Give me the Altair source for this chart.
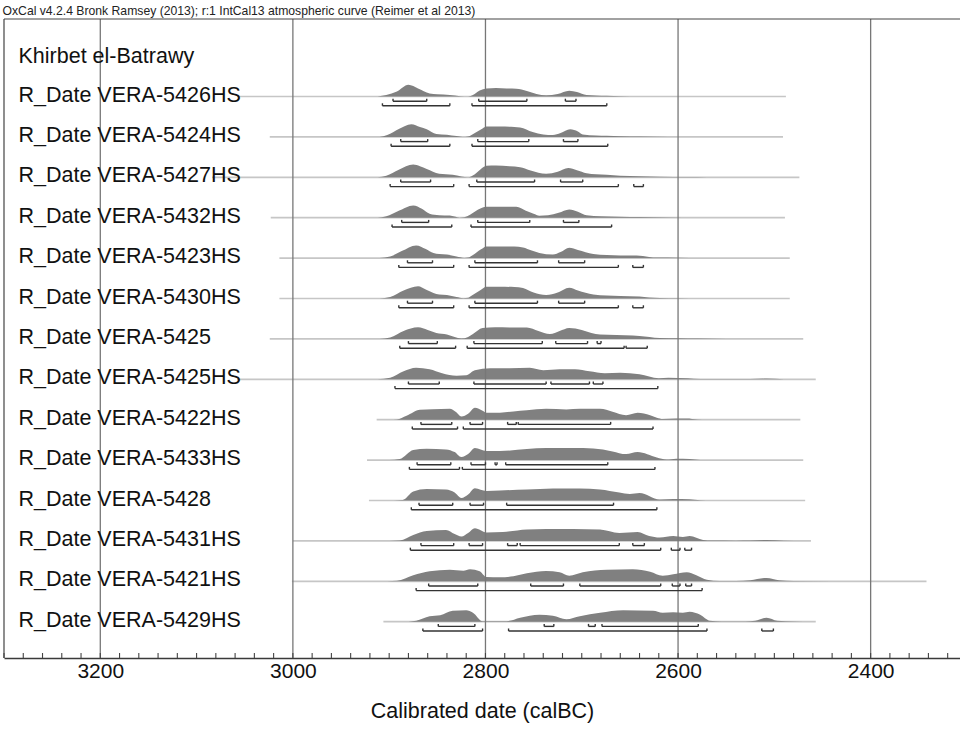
import altair as alt
import pandas as pd

HEADER = "OxCal v4.2.4 Bronk Ramsey (2013); r:1 IntCal13 atmospheric curve (Reimer et al 2013)"
GROUP_TITLE = "Khirbet el-Batrawy"
AXIS_TITLE = "Calibrated date (calBC)"

LABELS = [
    "R_Date VERA-5426HS", "R_Date VERA-5424HS", "R_Date VERA-5427HS",
    "R_Date VERA-5432HS", "R_Date VERA-5423HS", "R_Date VERA-5430HS",
    "R_Date VERA-5425", "R_Date VERA-5425HS", "R_Date VERA-5422HS",
    "R_Date VERA-5433HS", "R_Date VERA-5428", "R_Date VERA-5431HS",
    "R_Date VERA-5421HS", "R_Date VERA-5429HS",
]

# extent of the thin base line of each distribution (calBC)
LINE_START = [3058, 3024, 3084, 3023, 3014, 3014, 3024, 3058, 2913, 2923, 2921, 3000, 3001, 2906]
LINE_END = [2488, 2491, 2474, 2489, 2484, 2484, 2470, 2457, 2473, 2470, 2468, 2462, 2342, 2457]

GRID_YEARS = [3200, 3000, 2800, 2600, 2400]
MINOR_TICKS = list(range(3300, 2300, -20))

# probability densities: (year calBC, relative height)
D_5426HS = [(2912, 0), (2903, 1.5), (2892, 5), (2880, 11.7), (2870, 8), (2858, 3), (2850, 2.2), (2837, 1.5),
            (2826, 0.3), (2818, 0), (2813, 1.5), (2806, 6), (2799, 8), (2789, 8.5), (2778, 8), (2768, 7.8),
            (2757, 5.5), (2747, 2.5), (2737, 1.2), (2725, 2.5), (2713, 5.7), (2705, 4.5), (2695, 1.5),
            (2685, 1), (2674, 0.7), (2660, 0.3), (2640, 0)]
D_5424HS = [(2910, 0), (2902, 2), (2890, 8), (2877, 12.7), (2868, 10), (2861, 7.7), (2851, 3), (2840, 2.2),
            (2830, 0.8), (2824, 0), (2818, 0.5), (2811, 4), (2803, 8.5), (2799, 10.3), (2785, 10.3),
            (2770, 10), (2764, 9.5), (2751, 5), (2740, 2.5), (2730, 2), (2722, 4), (2712, 7.7), (2704, 5.5),
            (2699, 2.5), (2685, 1.5), (2674, 1.2), (2660, 0.6), (2640, 0.3), (2610, 0)]
D_5427HS = [(2912, 0), (2903, 1.5), (2890, 7.5), (2875, 12.7), (2868, 11), (2861, 8.3), (2848, 3.5),
            (2834, 2.5), (2825, 0.8), (2818, 0), (2811, 3), (2805, 8), (2799, 11.5), (2789, 11.7),
            (2775, 11), (2764, 10), (2754, 7), (2745, 4.5), (2737, 3.5), (2725, 5.5), (2714, 9.3),
            (2705, 7), (2695, 4), (2685, 3), (2674, 2.5), (2660, 1.5), (2640, 1), (2619, 0.5), (2590, 0.2),
            (2570, 0)]
D_5432HS = [(2912, 0), (2903, 1.5), (2890, 7), (2875, 12.3), (2866, 9), (2858, 4), (2848, 2.5), (2837, 2.2),
            (2832, 1.2), (2827, 0), (2822, 0.5), (2816, 3), (2808, 8), (2799, 11), (2785, 11), (2768, 11),
            (2758, 7), (2750, 4), (2744, 2), (2735, 2.5), (2724, 5), (2713, 8.3), (2704, 6), (2695, 2.5),
            (2680, 1.5), (2660, 1), (2640, 0.7), (2610, 0.3), (2580, 0)]
D_5423HS = [(2910, 0), (2899, 1.5), (2887, 7), (2872, 12.7), (2862, 9), (2854, 5), (2848, 4), (2840, 3.5),
            (2830, 1.5), (2822, 0.2), (2818, 0.5), (2813, 3), (2805, 8.5), (2799, 11.7), (2785, 11.7),
            (2770, 11.5), (2761, 10.5), (2752, 7.5), (2744, 5), (2730, 3.5), (2722, 6), (2713, 10.3),
            (2704, 8), (2688, 4), (2674, 3), (2660, 2.5), (2643, 2.5), (2630, 1.2), (2622, 0.5), (2600, 0.3),
            (2577, 0)]
D_5430HS = [(2910, 0), (2899, 1.5), (2885, 8), (2870, 12.3), (2862, 9), (2854, 5.5), (2848, 4), (2840, 3.5),
            (2830, 1.5), (2823, 0.3), (2818, 0.8), (2815, 2.5), (2805, 8.5), (2799, 11.7), (2785, 11.7),
            (2770, 11.5), (2761, 10.5), (2750, 6), (2737, 3.5), (2725, 6), (2713, 10.7), (2704, 8),
            (2688, 4), (2674, 3), (2660, 2.5), (2640, 2), (2630, 1), (2619, 0.5), (2600, 0.3), (2577, 0)]
D_5425 = [(2910, 0), (2899, 1.5), (2885, 8), (2870, 11.7), (2860, 9), (2851, 6), (2840, 4.5), (2832, 2),
          (2825, 0.5), (2818, 2), (2813, 5), (2803, 11), (2790, 11.7), (2775, 11.5), (2757, 11.5), (2745, 8),
          (2733, 5), (2723, 8), (2713, 11), (2700, 9), (2690, 6), (2681, 4.5), (2664, 4), (2647, 3.5),
          (2640, 3), (2619, 1), (2600, 0.7), (2580, 0.3), (2550, 0)]
D_5425HS = [(2912, 0), (2899, 1.5), (2885, 8), (2872, 11.5), (2858, 10), (2845, 6), (2830, 3.5), (2820, 4),
            (2811, 9), (2795, 11), (2775, 11), (2754, 11.5), (2740, 9), (2723, 10), (2707, 10), (2692, 8),
            (2676, 6), (2660, 6.5), (2640, 5), (2620, 1), (2610, 1.5), (2590, 1), (2577, 0.3), (2560, 0.2),
            (2525, 0.2), (2508, 0.7), (2490, 0)]
D_5422HS = [(2900, 0), (2892, 0.3), (2882, 4), (2868, 10), (2855, 10.5), (2837, 11), (2831, 8), (2825, 3.3),
            (2818, 6), (2811, 12), (2803, 9), (2799, 7), (2785, 7), (2771, 8.3), (2757, 9.5), (2737, 11),
            (2716, 10.3), (2702, 11), (2681, 11), (2668, 8), (2654, 4.5), (2642, 7), (2629, 4.5), (2622, 2),
            (2616, 0.7), (2602, 1.2), (2591, 1.2), (2580, 0.3), (2570, 0)]
D_5433HS = [(2900, 0), (2889, 1), (2875, 10), (2861, 11.3), (2841, 10.7), (2832, 8), (2825, 3), (2818, 6),
            (2811, 12), (2799, 9), (2785, 9), (2757, 11), (2737, 12), (2709, 12), (2688, 11.5), (2668, 8.7),
            (2654, 6), (2642, 8), (2622, 2.5), (2612, 0.5), (2602, 1.3), (2588, 1), (2577, 0.2), (2565, 0)]
D_5428 = [(2895, 0), (2886, 0.5), (2875, 9), (2861, 11.5), (2841, 11), (2832, 8), (2825, 2.5), (2818, 6),
          (2811, 12.3), (2799, 9.5), (2785, 10), (2757, 11), (2730, 12), (2702, 12), (2681, 11), (2661, 8),
          (2650, 6.5), (2640, 7.5), (2619, 1), (2605, 1.5), (2588, 1.3), (2577, 0.3), (2565, 0)]
D_5431HS = [(2900, 0), (2889, 0.5), (2875, 6), (2861, 10), (2841, 11), (2832, 7), (2825, 4.5), (2818, 8),
            (2811, 12.7), (2799, 8.5), (2782, 9), (2757, 11.5), (2737, 12), (2709, 12), (2681, 11.5),
            (2661, 8), (2642, 9), (2630, 5), (2619, 3.5), (2605, 5), (2595, 4), (2588, 5), (2574, 1),
            (2565, 0.3), (2540, 0.2), (2525, 0.3), (2508, 1), (2490, 0.2), (2470, 0)]
D_5421HS = [(2902, 0), (2892, 0.5), (2875, 6), (2858, 10), (2837, 11.5), (2823, 10.5), (2816, 12), (2806, 10),
            (2799, 4.3), (2785, 4), (2771, 5), (2757, 8), (2737, 10.3), (2723, 9), (2713, 5.5), (2699, 9),
            (2674, 11.5), (2647, 12), (2629, 9.5), (2616, 5.5), (2605, 7), (2591, 9), (2581, 6), (2570, 1.5),
            (2557, 0.3), (2540, 0.3), (2525, 1), (2508, 3.3), (2495, 1), (2480, 0.3), (2400, 0.1), (2350, 0)]
D_5429HS = [(2880, 0), (2872, 1), (2858, 5.5), (2847, 6.5), (2834, 11), (2820, 11.5), (2813, 9), (2803, 0.5),
            (2778, 0.5), (2764, 4), (2744, 7), (2730, 6), (2716, 2.5), (2702, 5.5), (2681, 9), (2657, 11.5),
            (2626, 11), (2616, 9), (2605, 9.5), (2595, 9), (2588, 10), (2577, 7), (2567, 1), (2555, 0.3),
            (2530, 0.3), (2520, 1), (2508, 4), (2497, 1), (2480, 0.2), (2460, 0)]

DENSITIES = [D_5426HS, D_5424HS, D_5427HS, D_5432HS, D_5423HS, D_5430HS, D_5425,
             D_5425HS, D_5422HS, D_5433HS, D_5428, D_5431HS, D_5421HS, D_5429HS]

# highest posterior density ranges (from, to) calBC
R68 = [
    [(2896, 2861), (2807, 2757), (2717, 2706)],
    [(2888, 2860), (2808, 2755), (2719, 2704)],
    [(2888, 2857), (2809, 2749), (2722, 2699)],
    [(2887, 2859), (2808, 2754), (2719, 2703)],
    [(2881, 2855), (2811, 2746), (2724, 2697)],
    [(2881, 2855), (2811, 2746), (2724, 2697)],
    [(2880, 2850), (2812, 2741), (2727, 2694), (2684, 2680)],
    [(2880, 2848), (2812, 2737), (2732, 2692), (2688, 2678)],
    [(2867, 2835), (2816, 2803), (2777, 2768), (2766, 2670)],
    [(2871, 2836), (2815, 2800), (2790, 2788), (2779, 2673)],
    [(2869, 2834), (2816, 2802), (2778, 2667)],
    [(2867, 2833), (2817, 2803), (2777, 2767), (2764, 2661), (2647, 2635)],
    [(2859, 2808), (2753, 2719), (2702, 2618), (2606, 2598), (2592, 2586)],
    [(2849, 2811), (2739, 2729), (2693, 2686), (2679, 2579)],
]
R95 = [
    [(2907, 2837), (2814, 2674)],
    [(2898, 2837), (2814, 2673)],
    [(2899, 2833), (2817, 2662), (2646, 2636)],
    [(2897, 2835), (2815, 2669)],
    [(2890, 2833), (2817, 2662), (2647, 2636)],
    [(2890, 2833), (2817, 2662), (2647, 2636)],
    [(2889, 2831), (2819, 2656), (2654, 2632)],
    [(2894, 2621)],
    [(2876, 2829), (2823, 2626)],
    [(2879, 2827), (2824, 2624)],
    [(2877, 2622)],
    [(2878, 2618), (2607, 2598), (2593, 2586)],
    [(2872, 2575)],
    [(2865, 2803), (2776, 2570), (2513, 2501)],
]

# ---------------------------------------------------------------- tables
W, H = 956, 639
ROW_PX = 40.4                       # pixels between rows
Y_TOP, Y_BOT = -1.918, 13.899       # row units at top / bottom of the plot

dens_rows = []
for i, d in enumerate(DENSITIES):
    for yr, h in d:
        dens_rows.append({"row": i, "year": yr, "d": h})
dens_df = pd.DataFrame(dens_rows)

line_df = pd.DataFrame({"row": list(range(len(LABELS))), "s": LINE_START, "e": LINE_END})
label_df = pd.DataFrame({"row": list(range(len(LABELS))), "label": LABELS})

rng = []
for i in range(len(LABELS)):
    for s, e in R68[i]:
        rng.append({"row": i, "lvl": 68, "s": s, "e": e})
    for s, e in R95[i]:
        rng.append({"row": i, "lvl": 95, "s": s, "e": e})
rng_df = pd.DataFrame(rng)

xs = alt.Scale(domain=[2307.2, 3300], reverse=True, zero=False, nice=False)
ys = alt.Scale(domain=[Y_TOP, Y_BOT], reverse=True, zero=False, nice=False)
FONT = "Liberation Sans"
AX = alt.Axis(values=GRID_YEARS, ticks=False, grid=False, domain=True, domainColor="#3a3a3a",
              domainWidth=1.4, labelFontSize=21, labelFont=FONT, labelColor="#111111",
              labelPadding=2, format="d", labelFlush=False, title=AXIS_TITLE,
              titleFont=FONT, titleFontSize=21.5, titleFontWeight="normal", titleColor="#111111",
              titlePadding=19)


def X(f):
    return alt.X(f, type="quantitative", scale=xs, axis=AX)


def Y(f):
    return alt.Y(f, type="quantitative", scale=ys, axis=None)


baselines = alt.Chart(line_df).mark_rule(color="#c6c6c6", strokeWidth=1.7).encode(
    x=X("s"), x2="e", y=Y("row"))

areas = alt.Chart(dens_df).transform_calculate(
    top=f"datum.row - datum.d / {ROW_PX}"
).mark_area(color="#808080", interpolate="monotone", opacity=1).encode(
    x=X("year"), y=Y("top"), y2="row", detail="row:N")

grid = alt.Chart(pd.DataFrame({"g": GRID_YEARS})).mark_rule(color="#777777", strokeWidth=1.3).encode(
    x=X("g"), y=alt.value(0), y2=alt.value(H))

rng_base = alt.Chart(rng_df).transform_calculate(
    yb=f"datum.row + (datum.lvl == 68 ? 4.7 : 9.3) / {ROW_PX}",
    yt=f"datum.row + (datum.lvl == 68 ? 2.2 : 6.8) / {ROW_PX}",
)
bracket_h = rng_base.mark_rule(color="#333333", strokeWidth=1.4).encode(
    x=X("s"), x2="e", y=Y("yb"))
bracket_v = rng_base.transform_fold(["s", "e"], as_=["k", "pos"]).mark_rule(
    color="#333333", strokeWidth=1.4).encode(x=X("pos"), y=Y("yb"), y2="yt")

ticks = alt.Chart(pd.DataFrame({"t": MINOR_TICKS})).mark_rule(color="#444444", strokeWidth=1.1).encode(
    x=X("t"), y=alt.value(H), y2=alt.value(H - 5))

frame_top = alt.Chart(pd.DataFrame({"a": [0]})).mark_rule(color="#444444", strokeWidth=1.2).encode(
    x=alt.value(0), x2=alt.value(W), y=alt.value(0))
frame_left = alt.Chart(pd.DataFrame({"a": [0]})).mark_rule(color="#444444", strokeWidth=1.2).encode(
    x=alt.value(0), y=alt.value(0), y2=alt.value(H))

labels = alt.Chart(label_df).mark_text(
    align="left", baseline="alphabetic", dy=5.2, fontSize=21.5, font=FONT, color="#111111"
).encode(x=alt.value(14.5), y=Y("row"), text="label:N")

title_txt = alt.Chart(pd.DataFrame({"t": [GROUP_TITLE]})).mark_text(
    align="left", baseline="alphabetic", fontSize=21.5, font=FONT, color="#111111"
).encode(x=alt.value(14.5), y=alt.value(44.3), text="t:N")

header = alt.Chart(pd.DataFrame({"t": [HEADER]})).mark_text(
    align="left", baseline="alphabetic", fontSize=12.2, font=FONT, color="#222222"
).encode(x=alt.value(-1.5), y=alt.value(-4), text="t:N")

chart = alt.layer(
    baselines, areas, grid, bracket_h, bracket_v, ticks, frame_top, frame_left,
    labels, title_txt, header
).properties(
    width=W, height=H,
    autosize=alt.AutoSizeParams(type="none"),
    padding={"left": 4, "top": 19, "right": 0, "bottom": 72},
    background="white",
).configure_view(stroke=None)

chart.save("out.html", embed_options={"renderer": "svg", "actions": False})
